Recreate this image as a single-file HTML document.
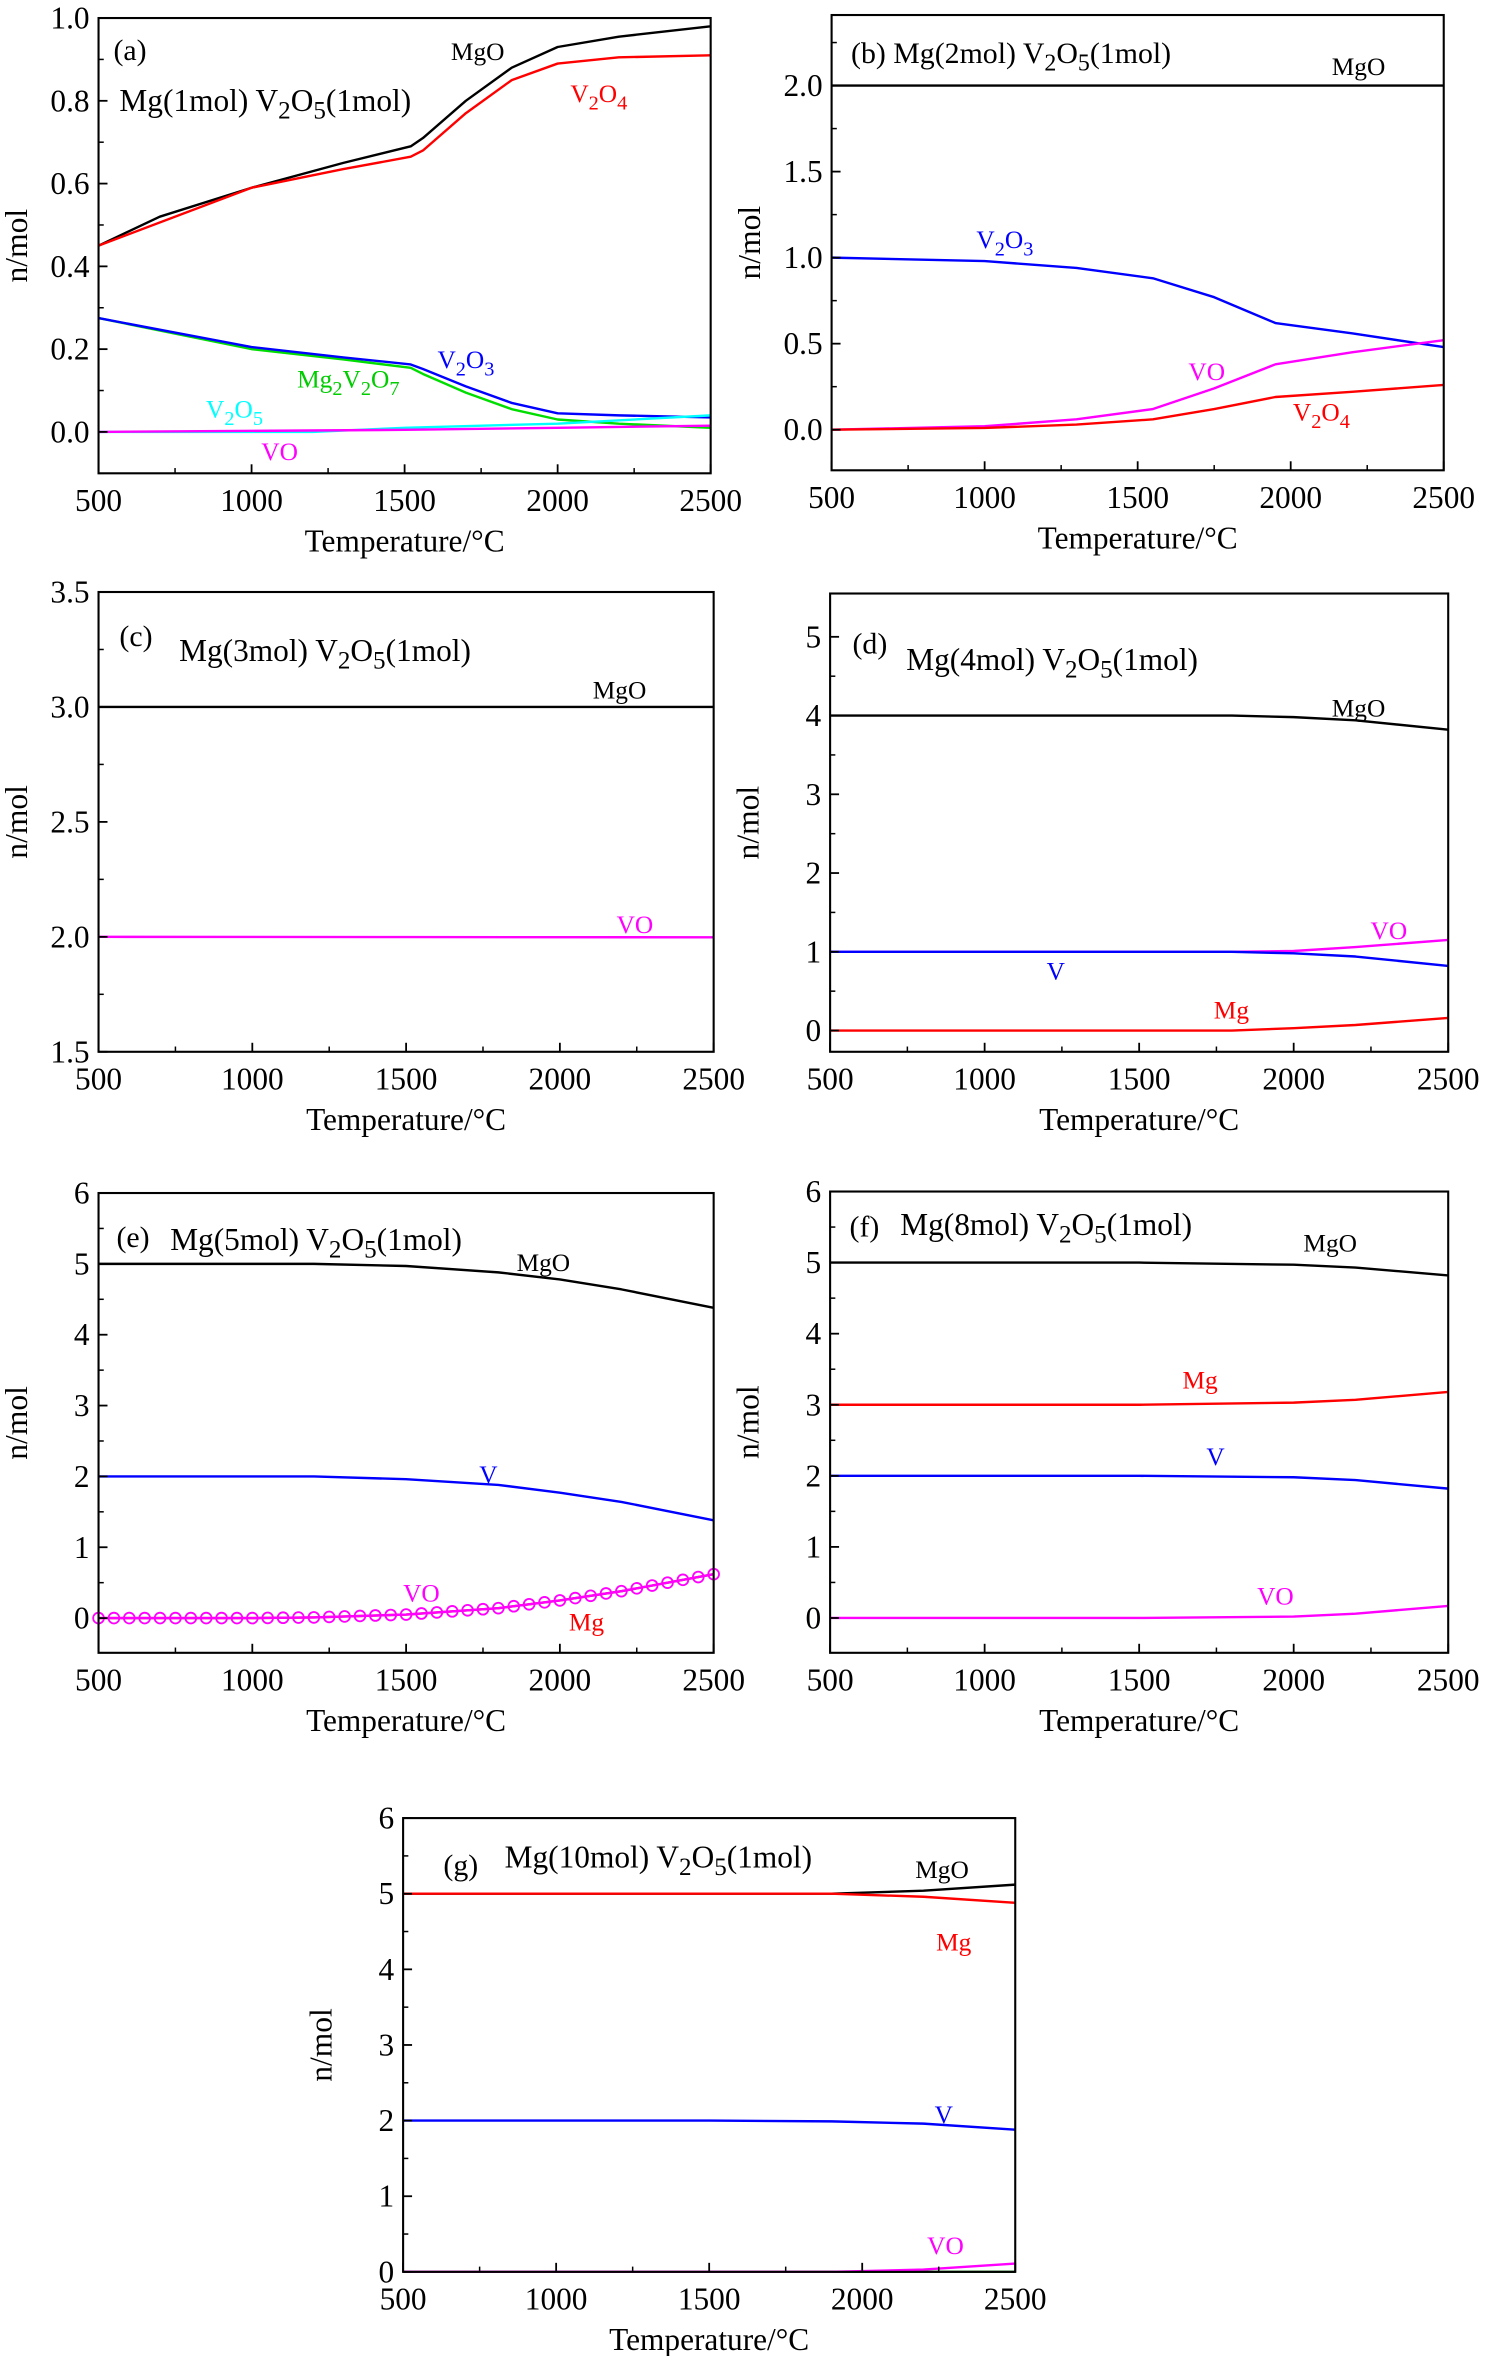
<!DOCTYPE html>
<html><head><meta charset="utf-8"><style>
html,body{margin:0;padding:0;background:#fff;}
svg{display:block;}
text{font-family:"Liberation Serif",serif;}
</style></head><body>
<svg id="fig" width="1493" height="2356" viewBox="0 0 1000 1568" preserveAspectRatio="none" xmlns="http://www.w3.org/2000/svg"></svg>
<script>
// ---- data (temperature in °C, amounts in mol) ----
const aMgO_T=[500,700,1000,1300,1520,1560,1700,1850,2000,2200,2500];
const aMgO_V=[0.45,0.52,0.59,0.65,0.69,0.71,0.80,0.88,0.93,0.955,0.98];
const aV2O4_T=[500,1000,1300,1520,1560,1700,1850,2000,2200,2500];
const aV2O4_V=[0.45,0.59,0.635,0.665,0.68,0.77,0.85,0.89,0.905,0.91];
const aV2O3_T=[500,1000,1300,1520,1560,1700,1850,2000,2200,2500];
const aV2O3_V=[0.275,0.205,0.18,0.163,0.152,0.11,0.07,0.045,0.04,0.035];
const aMg2V2O7_V=[0.275,0.2,0.175,0.155,0.14,0.095,0.055,0.03,0.02,0.01];
const aV2O5_T=[500,1200,1500,2000,2500];
const aV2O5_V=[0,0,0.01,0.02,0.04];
const aVO_T=[500,1500,2000,2500];
const aVO_V=[0,0.005,0.01,0.015];

const bT=[500,1000,1300,1550,1750,1950,2200,2500];
const bMgO=[2,2,2,2,2,2,2,2];
const bV2O3=[1.0,0.98,0.94,0.88,0.77,0.62,0.56,0.48];
const bVO=[0,0.02,0.06,0.12,0.24,0.38,0.45,0.52];
const bV2O4=[0,0.01,0.03,0.06,0.12,0.19,0.22,0.26];

const cT=[500,1500,2500];
const cMgO=[3,3,3];
const cVO=[2,1.999,1.998];

const dT=[500,1500,1800,2000,2200,2500];
const dMgO=[4,4,4,3.98,3.94,3.82];
const dVO=[1,1,1,1.01,1.06,1.15];
const dV=[1,1,1,0.98,0.94,0.82];
const dMg=[0,0,0,0.03,0.07,0.16];

const eT=[500,1000,1200,1500,1800,2000,2200,2500];
const eMgO=[5,5,5,4.97,4.88,4.78,4.64,4.38];
const eV=[2,2,2,1.96,1.88,1.77,1.64,1.38];
const eVO=[0,0,0.01,0.05,0.14,0.25,0.38,0.62];
const eMg=[0,0,0.01,0.05,0.14,0.25,0.38,0.62];

const fT=[500,1500,2000,2200,2500];
const fMgO=[5,5,4.97,4.93,4.82];
const fMg=[3,3,3.03,3.07,3.18];
const fV=[2,2,1.98,1.94,1.82];
const fVO=[0,0,0.02,0.06,0.17];

const gT=[500,1500,1900,2200,2500];
const gMgO=[5,5,5.0,5.04,5.12];
const gMg=[5,5,5.0,4.96,4.88];
const gV=[2,2,1.99,1.96,1.88];
const gVO=[0,0,0,0.03,0.11];
const gBase=[0,0,0,0,0];

const xTicks=[500,1000,1500,2000,2500];

const NS="http://www.w3.org/2000/svg";
const svg=document.getElementById('fig');
function el(tag,attrs,parent){const e=document.createElementNS(NS,tag);for(const k in attrs)e.setAttribute(k,attrs[k]);(parent||svg).appendChild(e);return e;}

function panel(p){
  const g=el('g',{});
  
  
  const sx=v=>p.x0+(v-500)/2000*(p.x1-p.x0);
  const sy=v=>p.y1-(v-p.ymin)/(p.ymax-p.ymin)*(p.y1-p.y0);
  p.series.forEach(s=>{
    const d=s.t.map((t,i)=>(i?'L':'M')+sx(t).toFixed(2)+' '+sy(s.v[i]).toFixed(2)).join(' ');
    const path=el('path',{d:d,fill:'none',stroke:s.c,'stroke-width':1.6,'stroke-linejoin':'round'},g);
    
    
    if(s.circles){
      for(let t=500;t<=2500;t+=50){
        let i=0;while(i<s.t.length-2&&t>s.t[i+1])i++;
        const f=(t-s.t[i])/(s.t[i+1]-s.t[i]);
        const v=s.v[i]+f*(s.v[i+1]-s.v[i]);
        const c=el('circle',{cx:sx(t),cy:sy(v),r:3.6,fill:'none',stroke:s.c,'stroke-width':1.2},g);
        
        
      }
    }
  });
  const fr=el('rect',{x:p.x0,y:p.y0,width:p.x1-p.x0,height:p.y1-p.y0,fill:'none',stroke:'#000','stroke-width':1.4},g);
  
  
  xTicks.forEach(t=>{
    el('line',{x1:sx(t),x2:sx(t),y1:p.y1,y2:p.y1-6,stroke:'#000','stroke-width':1.2},g);
    const tx=el('text',{x:sx(t),y:p.y1+25,'font-size':21,'text-anchor':'middle'},g);tx.textContent=t;
    
    
  });
  for(let t=750;t<2500;t+=500) el('line',{x1:sx(t),x2:sx(t),y1:p.y1,y2:p.y1-3.5,stroke:'#000','stroke-width':1},g);
  p.yticks.forEach(v=>{
    el('line',{x1:p.x0,x2:p.x0+6,y1:sy(v),y2:sy(v),stroke:'#000','stroke-width':1.2},g);
    const tx=el('text',{x:p.x0-6,y:sy(v)+7,'font-size':21,'text-anchor':'end'},g);tx.textContent=p.fmt(v);
    
    
  });
  p.yminor.forEach(v=>el('line',{x1:p.x0,x2:p.x0+3.5,y1:sy(v),y2:sy(v),stroke:'#000','stroke-width':1},g));
  const xt=el('text',{x:(p.x0+p.x1)/2,y:p.y1+52,'font-size':21,'text-anchor':'middle'},g);xt.textContent='Temperature/°C';
  
  
  const cy=(p.y0+p.y1)/2,cx=p.x0-48;
  const yt=el('text',{x:cx,y:cy,'font-size':21,'text-anchor':'middle',transform:'rotate(-90 '+cx+' '+cy+')'},g);yt.textContent='n/mol';
  
  
  p.labels.forEach(l=>{
    const tx=el('text',{x:l[0],y:l[1],'font-size':l[4]||17,fill:l[3]},g);
    tx.innerHTML=l[2];
    
    
  });
}
// formula builder: parts alternate normal text and subscripts
function F(parts){
  let s='',low=false;
  parts.forEach((p,i)=>{
    if(i%2===1){ s+='<tspan dy="5" font-size="0.8em">'+p+'</tspan>'; low=true; }
    else { s+=low?'<tspan dy="-5">'+p+'</tspan>':p; low=false; }
  });
  if(low) s+='<tspan dy="-5"> </tspan>';
  return s;
}
const f1=v=>v.toFixed(1), f0=v=>String(v);
const title=n=>F(['Mg('+n+'mol) V','2','O','5','(1mol)']);
const V2O3=F(['V','2','O','3']), V2O4=F(['V','2','O','4']), V2O5=F(['V','2','O','5']);
const MG2V2O7=F(['Mg','2','V','2','O','7']);

panel({id:'a',x0:66,x1:476,y0:12,y1:315,ymin:-0.1,ymax:1.0,yticks:[0,0.2,0.4,0.6,0.8,1.0],yminor:[-0.1,0.1,0.3,0.5,0.7,0.9],fmt:f1,
 series:[{n:'mgo',t:aMgO_T,v:aMgO_V,c:'#000'},{n:'v2o4',t:aV2O4_T,v:aV2O4_V,c:'#f00'},{n:'mg2v2o7',t:aV2O3_T,v:aMg2V2O7_V,c:'#0d0'},{n:'v2o3',t:aV2O3_T,v:aV2O3_V,c:'#00f'},{n:'v2o5',t:aV2O5_T,v:aV2O5_V,c:'#0ff'},{n:'vo',t:aVO_T,v:aVO_V,c:'#f0f'}],
 labels:[[76,40,'(a)','#000',20],[80,74,title(1),'#000',21],[302,40,'MgO','#000'],[382,68,V2O4,'#f00'],[293,245,V2O3,'#00f'],[199,258,MG2V2O7,'#0c0'],[138,278,V2O5,'#0ff'],[175,306,'VO','#f0f']]});

panel({id:'b',x0:557,x1:967,y0:10,y1:313,ymin:-0.236,ymax:2.41,yticks:[0,0.5,1.0,1.5,2.0],yminor:[0.25,0.75,1.25,1.75,2.25],fmt:f1,
 series:[{n:'mgo',t:bT,v:bMgO,c:'#000'},{n:'v2o3',t:bT,v:bV2O3,c:'#00f'},{n:'vo',t:bT,v:bVO,c:'#f0f'},{n:'v2o4',t:bT,v:bV2O4,c:'#f00'}],
 labels:[[570,42,'(b) '+title(2),'#000',20],[892,50,'MgO','#000'],[654,165,V2O3,'#00f'],[796,253,'VO','#f0f'],[866,280,V2O4,'#f00']]});

panel({id:'c',x0:66,x1:478,y0:394,y1:700,ymin:1.5,ymax:3.5,yticks:[1.5,2.0,2.5,3.0,3.5],yminor:[1.75,2.25,2.75,3.25],fmt:f1,
 series:[{n:'mgo',t:cT,v:cMgO,c:'#000'},{n:'vo',t:cT,v:cVO,c:'#f0f'}],
 labels:[[80,430,'(c)','#000',20],[120,440,title(3),'#000',21],[397,465,'MgO','#000'],[413,621,'VO','#f0f']]});

panel({id:'d',x0:556,x1:970,y0:395,y1:700,ymin:-0.27,ymax:5.55,yticks:[0,1,2,3,4,5],yminor:[0.5,1.5,2.5,3.5,4.5],fmt:f0,
 series:[{n:'mgo',t:dT,v:dMgO,c:'#000'},{n:'vo',t:dT,v:dVO,c:'#f0f'},{n:'v',t:dT,v:dV,c:'#00f'},{n:'mg',t:dT,v:dMg,c:'#f00'}],
 labels:[[571,435,'(d)','#000',20],[607,446,title(4),'#000',21],[892,477,'MgO','#000'],[918,625,'VO','#f0f'],[701,652,'V','#00f'],[813,678,'Mg','#f00']]});

panel({id:'e',x0:66,x1:478,y0:794,y1:1100,ymin:-0.49,ymax:6,yticks:[0,1,2,3,4,5,6],yminor:[0.5,1.5,2.5,3.5,4.5,5.5],fmt:f0,
 series:[{n:'mgo',t:eT,v:eMgO,c:'#000'},{n:'v',t:eT,v:eV,c:'#00f'},{n:'mg',t:eT,v:eMg,c:'#f00'},{n:'vo',t:eT,v:eVO,c:'#f0f',circles:true}],
 labels:[[78,830,'(e)','#000',20],[114,832,title(5),'#000',21],[346,846,'MgO','#000'],[321,987,'V','#00f'],[270,1066,'VO','#f0f'],[381,1085,'Mg','#f00']]});

panel({id:'f',x0:556,x1:970,y0:793,y1:1100,ymin:-0.49,ymax:6,yticks:[0,1,2,3,4,5,6],yminor:[0.5,1.5,2.5,3.5,4.5,5.5],fmt:f0,
 series:[{n:'mgo',t:fT,v:fMgO,c:'#000'},{n:'mg',t:fT,v:fMg,c:'#f00'},{n:'v',t:fT,v:fV,c:'#00f'},{n:'vo',t:fT,v:fVO,c:'#f0f'}],
 labels:[[569,823,'(f)','#000',20],[603,822,title(8),'#000',21],[873,833,'MgO','#000'],[792,924,'Mg','#f00'],[808,975,'V','#00f'],[842,1068,'VO','#f0f']]});

panel({id:'g',x0:270,x1:680,y0:1210,y1:1512,ymin:0,ymax:6,yticks:[0,1,2,3,4,5,6],yminor:[0.5,1.5,2.5,3.5,4.5,5.5],fmt:f0,
 series:[{n:'base',t:gT,v:gBase,c:'#080'},{n:'mgo',t:gT,v:gMgO,c:'#000'},{n:'mg',t:gT,v:gMg,c:'#f00'},{n:'v',t:gT,v:gV,c:'#00f'},{n:'vo',t:gT,v:gVO,c:'#f0f'}],
 labels:[[297,1248,'(g)','#000',20],[338,1243,title(10),'#000',21],[613,1250,'MgO','#000'],[627,1298,'Mg','#f00'],[626,1413,'V','#00f'],[621,1500,'VO','#f0f']]});
</script>
</body></html>
